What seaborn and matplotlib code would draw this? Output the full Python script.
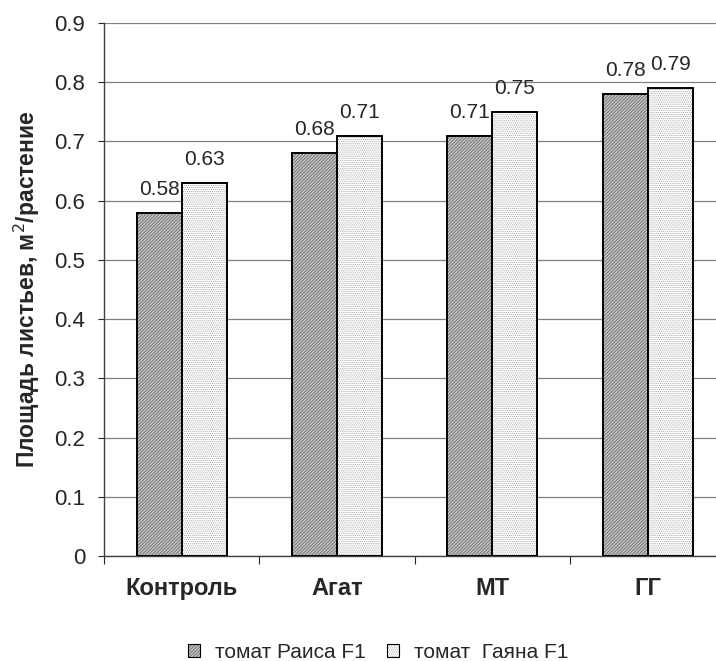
import pandas as pd
import matplotlib
matplotlib.use("Agg")
import matplotlib.pyplot as plt
import matplotlib.patches as mpatches
import seaborn as sns

categories = ["Контроль", "Агат", "МТ", "ГГ"]
series_names = ["томат Раиса F1", "томат  Гаяна F1"]
raisa = [0.58, 0.68, 0.71, 0.78]
gayana = [0.63, 0.71, 0.75, 0.79]

df = pd.DataFrame({
    "cat": categories * 2,
    "val": raisa + gayana,
    "series": [series_names[0]] * 4 + [series_names[1]] * 4,
})

sns.set_style("white")
plt.rcParams["font.family"] = ["Liberation Sans", "DejaVu Sans"]
plt.rcParams["hatch.linewidth"] = 0.5

fig = plt.figure(figsize=(7.16, 6.61), dpi=100)
ax = fig.add_axes([0.1453, 0.1589, 0.8676, 0.8063])

# (face colour, hatch colour, hatch pattern)
styles = [("#c4c4c4", "#5a5a5a", "//////////"), ("#ffffff", "#a0a0a0", "........")]

sns.barplot(data=df, x="cat", y="val", hue="series", width=0.58, gap=0,
            palette=["#c4c4c4", "#ffffff"], saturation=1, ax=ax, legend=False)

for cont, (fc, hc, h) in zip(ax.containers, styles):
    for p in cont:
        p.set_facecolor(fc)
        p.set_edgecolor(hc)
        p.set_linewidth(0)
        p.set_hatch(h)
        # black outline drawn on top of the hatched bar
        ax.add_patch(mpatches.Rectangle(p.get_xy(), p.get_width(), p.get_height(),
                                        fill=False, edgecolor="black", linewidth=1.4, zorder=3))
    ax.bar_label(cont, fmt="%.2f", padding=10, fontsize=15)

ax.set_ylim(0, 0.9)
ax.set_yticks([i / 10 for i in range(10)])
ax.set_yticklabels(["0"] + [f"{i/10:.1f}" for i in range(1, 10)], fontsize=16)
ax.set_xlim(-0.5, 3.5)
ax.set_xticks([0, 1, 2, 3])
ax.set_xticklabels(categories, fontsize=17, fontweight="bold")
ax.tick_params(axis="x", length=0, pad=15)
ax.tick_params(axis="y", length=4.5, direction="out", left=True, width=0.8, pad=9)
ax.set_xticks([-0.5, 0.5, 1.5, 2.5], minor=True)
ax.tick_params(axis="x", which="minor", length=6, bottom=True, width=0.8)

ax.grid(axis="y", color="#808080", linewidth=0.9)
ax.set_axisbelow(True)
for s in ["top", "right"]:
    ax.spines[s].set_visible(False)
for s in ["left", "bottom"]:
    ax.spines[s].set_color("#404040")
    ax.spines[s].set_linewidth(1.0)

ax.set_xlabel("")
ax.set_ylabel("Площадь листьев, м$^2$/растение", fontsize=16.5, fontweight="bold", labelpad=9)

handles = []
for (fc, hc, h), name in zip(styles, series_names):
    hatched = mpatches.Patch(facecolor=fc, edgecolor=hc, hatch=h, linewidth=0)
    outline = mpatches.Patch(fill=False, edgecolor="black", linewidth=0.8)
    handles.append((hatched, outline))
fig.legend(handles=handles, labels=series_names, loc="center", bbox_to_anchor=(0.528, 0.013),
           ncol=2, frameon=False, fontsize=15, handlelength=0.6, handleheight=0.6,
           handletextpad=0.7, columnspacing=1.0, borderpad=0)

plt.savefig("out.png", dpi=100)
